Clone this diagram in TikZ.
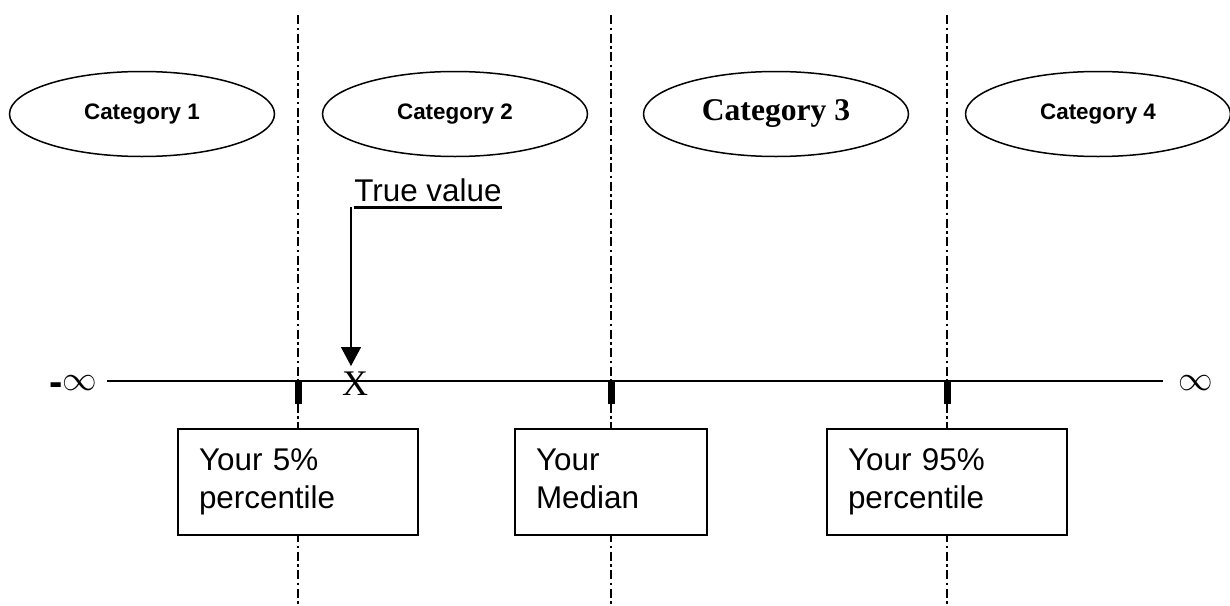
\documentclass[tikz,border=0pt]{standalone}
\usepackage{fontspec}
\setmainfont{Liberation Serif}
\setsansfont{Liberation Sans}
\usetikzlibrary{arrows.meta,shapes.geometric}

\begin{document}
\begin{tikzpicture}[x=0.5pt,y=-0.5pt,
    cat/.style={draw, ellipse, line width=0.75pt, minimum width=132.5pt, minimum height=42.5pt, inner sep=0pt,
      font=\sffamily\bfseries\fontsize{11.2}{13}\selectfont},
    pbox/.style={draw, fill=white, line width=0.75pt, minimum height=53pt, align=left, inner xsep=10.5pt,
      font=\sffamily\fontsize{15.7}{19}\selectfont, execute at begin node=\strut, execute at end node=\strut},
    inf/.style={inner sep=0pt, font=\fontsize{18.5}{20}\selectfont},
    sep/.style={line width=0.8pt, dash pattern=on 4.5pt off 1.75pt on 1.25pt off 1.75pt}]
  \useasboundingbox (0,0) rectangle (1230,605);
  % borders between the categories
  \foreach \x in {298,611,947}
    \draw[sep] (\x,15) -- (\x,605);
  \node[cat] (c1) at (142,114) {Category 1};
  \node[cat] (c2) at (455,114) {Category 2};
  \node[cat, font=\rmfamily\bfseries\fontsize{15.8}{18}\selectfont] (c3) at (776,114) {Category 3};
  \node[cat] (c4) at (1098,114) {Category 4};
  % the axis
  \coordinate (axL) at (107,381);
  \coordinate (axR) at (1163,381);
  \draw[line width=0.7pt] (axL) -- (axR);
  \node[inf] (minf) at (73,386) {\raisebox{-2.5pt}{\sffamily\bfseries\fontsize{20}{20}\selectfont -}$\infty$};
  \node[inf] (pinf) at (1196,383) {$\infty$};
  \foreach \x in {298,611,947}
    \fill (\x-3.5,381) rectangle (\x+3.5,404);
  % true value
  \node[anchor=base west, inner sep=0pt, font=\sffamily\fontsize{15.7}{19}\selectfont] (tv) at (354,201) {True value};
  \draw[line width=1.5pt] ([yshift=-3pt]tv.base west) -- ([yshift=-3pt]tv.base east);
  \node[anchor=base, inner xsep=0pt, inner ysep=2.5pt, font=\rmfamily\fontsize{18}{20}\selectfont] (xmark) at (355,395) {X};
  \coordinate (tvc) at ([xshift=-1.5pt,yshift=-3pt]tv.base west);
  \draw[line width=0.65pt, -{Triangle[width=10pt,length=9.5pt]}] (tvc) -- (tvc |- xmark.north);
  % the percentiles
  \node[pbox, text width=99pt] (p5) at (298,482) {Your 5\%\\percentile};
  \node[pbox, text width=75pt] (med) at (611,482) {Your\\Median};
  \node[pbox, text width=99pt] (p95) at (947,482) {Your 95\%\\percentile};
\end{tikzpicture}
\end{document}
